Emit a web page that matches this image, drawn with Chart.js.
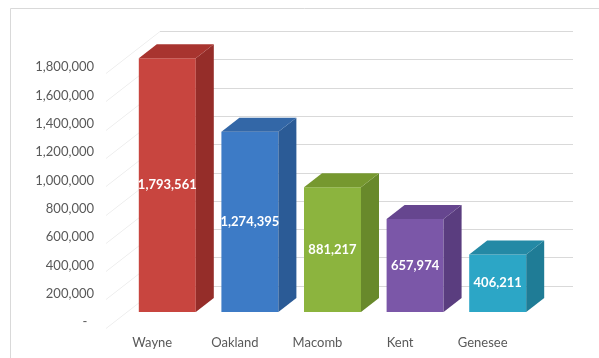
<!DOCTYPE html>
<html>
<head>
<meta charset="utf-8">
<script src="https://cdn.jsdelivr.net/npm/chart.js@4.4.1/dist/chart.umd.min.js"></script>
<style>
  html, body { margin: 0; padding: 0; background: #fff; }
  #wrap { width: 599px; height: 358px; }
</style>
</head>
<body>
<div id="wrap"><canvas id="chart1" width="599" height="358"></canvas></div>
<script>
// Michigan counties by population
const counties = ['Wayne', 'Oakland', 'Macomb', 'Kent', 'Genesee'];
const population = [1793561, 1274395, 881217, 657974, 406211];
const yMax = 2000000;
const yStep = 200000;

// colours of the three visible faces of each column
const frontColors = ['#c8453f', '#3d7bc6', '#8cb43e', '#7b57a8', '#2ca6c6'];
const sideColors = ['#952d29', '#2b5b96', '#68892b', '#5a3d7f', '#1f7c96'];
const topColors = ['#a8342f', '#3367a7', '#76982f', '#66468f', '#2489a5'];

const depthX = 18;
const depthY = 14;
const wallShift = 34;

const fontFamily = 'Lato, "Liberation Sans", sans-serif';

const bars3d = {
    id: 'bars3d',
    beforeDraw(chart) {
        const ctx = chart.ctx;
        ctx.save();
        ctx.strokeStyle = '#d9d9d9';
        ctx.lineWidth = 1;
        ctx.beginPath();
        ctx.moveTo(10.5, chart.height);
        ctx.lineTo(10.5, 8.5);
        ctx.lineTo(chart.width, 8.5);
        ctx.stroke();
        ctx.restore();
    },
    beforeDatasetsDraw(chart) {
        const ctx = chart.ctx;
        const area = chart.chartArea;
        const y = chart.scales.y;
        ctx.save();
        ctx.lineWidth = 1;
        for (let v = yStep; v <= yMax; v += yStep) {
            const py = Math.round(y.getPixelForValue(v) + 2) + 0.5;
            // back wall
            ctx.strokeStyle = '#d9d9d9';
            ctx.beginPath();
            ctx.moveTo(area.left + wallShift, py);
            ctx.lineTo(area.right + wallShift, py);
            ctx.stroke();
            // side wall
            ctx.strokeStyle = '#eeeeee';
            ctx.beginPath();
            ctx.moveTo(area.left + wallShift, py);
            ctx.lineTo(area.left - 20, py + 42);
            ctx.stroke();
        }
        ctx.restore();
    },
    afterDatasetsDraw(chart) {
        const ctx = chart.ctx;
        const meta = chart.getDatasetMeta(0);
        ctx.save();
        meta.data.forEach((bar, i) => {
            const p = bar.getProps(['x', 'y', 'base', 'width'], true);
            const l = p.x - p.width / 2;
            const r = p.x + p.width / 2;
            // side face
            ctx.fillStyle = sideColors[i];
            ctx.beginPath();
            ctx.moveTo(r, p.y);
            ctx.lineTo(r + depthX, p.y - depthY);
            ctx.lineTo(r + depthX, p.base - depthY);
            ctx.lineTo(r, p.base);
            ctx.closePath();
            ctx.fill();
            // top face
            ctx.fillStyle = topColors[i];
            ctx.beginPath();
            ctx.moveTo(l, p.y);
            ctx.lineTo(l + depthX, p.y - depthY);
            ctx.lineTo(r + depthX, p.y - depthY);
            ctx.lineTo(r, p.y);
            ctx.closePath();
            ctx.fill();
            // value label
            ctx.fillStyle = '#ffffff';
            ctx.font = 'bold 13px ' + fontFamily;
            ctx.textAlign = 'center';
            ctx.textBaseline = 'middle';
            ctx.fillText(population[i].toLocaleString('en-US'), p.x, (p.y + p.base) / 2);
        });
        ctx.restore();
    }
};

const ctx = document.getElementById('chart1').getContext('2d');
const chart1 = new Chart(ctx, {
    type: 'bar',
    data: {
        labels: counties,
        datasets: [{
            label: 'Population',
            data: population,
            backgroundColor: frontColors,
            borderWidth: 0,
            barPercentage: 0.69,
            categoryPercentage: 1
        }]
    },
    options: {
        responsive: false,
        animation: false,
        devicePixelRatio: 1,
        layout: {
            padding: { left: 10, right: 60, top: 29, bottom: 0 }
        },
        plugins: {
            legend: { display: false },
            tooltip: { enabled: false }
        },
        scales: {
            x: {
                grid: { display: false },
                border: { display: false },
                ticks: {
                    color: '#595959',
                    font: { family: fontFamily, size: 13 },
                    padding: 15,
                    labelOffset: -15,
                    maxRotation: 0
                },
                afterFit(scale) { scale.height = 46; }
            },
            y: {
                min: 0,
                max: yMax,
                grid: { display: false, drawTicks: false },
                border: { display: false },
                ticks: {
                    stepSize: yStep,
                    color: '#595959',
                    font: { family: fontFamily, size: 13 },
                    padding: 32,
                    labelOffset: 10,
                    callback: function (value) {
                        if (value === 0) return '-  ';
                        if (value === yMax) return '';
                        return value.toLocaleString('en-US');
                    }
                },
                afterFit(scale) {
                    scale.width = 116;
                    scale.paddingTop = 0;
                    scale.paddingBottom = 0;
                }
            }
        }
    },
    plugins: [bars3d]
});
</script>
</body>
</html>
